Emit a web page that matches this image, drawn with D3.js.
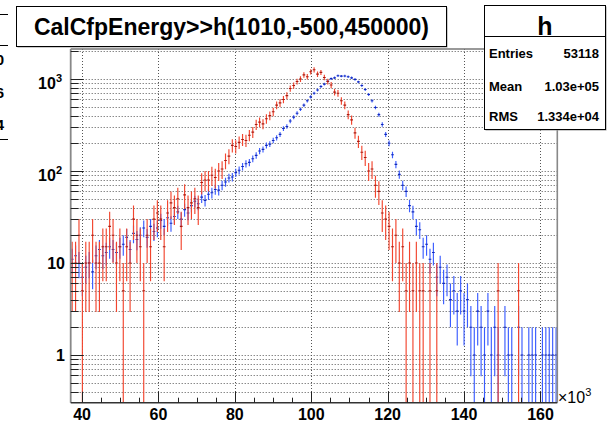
<!DOCTYPE html>
<html><head><meta charset="utf-8">
<script src="https://cdn.jsdelivr.net/npm/d3@7"></script>
<style>body{margin:0;background:#fff;} svg{display:block;font-family:"Liberation Sans",Arial,Helvetica,sans-serif;}</style>
</head><body>
<svg id="c" width="612" height="430"></svg>
<script>
// ---------------- data (x in units of 10^3) ----------------
const binStart = 36.967;
const binWidth = 0.892;
const redWeight = 5;   // red histogram is weighted: error = weight*sqrt(value/weight)
const redValues = [
10,10,20,5,10, 10,20,10,10,15, 15,25,20,10,15, 5,15,10,30,20,
15,5,20,15,30, 35,30,15,35,45, 40,50,25,55,40, 45,50,40,75,80,
80,90,85,100,105, 130,145,190,185,205, 220,215,245,265,320, 340,325,370,400,440,
520,550,600,660,790, 850,940,1000,1110,1060, 1200,1260,1130,1180,1040, 940,860,720,700,580,
520,410,360,260,210, 160,140,100,105,70, 60,35,30,25,15, 20,10,15,5,10,
5,10,5,5,0, 5,0,5,0,0, 0,0,0,0,0, 0,0,0,0,0, 0,0,0,0,0,
5,0,0,0,0, 0,5,0,0,0, 0,0,0,0,0, 0,0,0
];
const blueValues = [
11,12,10,7,9, 10,8,12,14,12, 13,15,14,13,15, 16,19,14,21,18,
20,24,19,25,22, 24,29,25,31,27, 32,36,30,38,35, 42,47,44,52,48,
56,58,63,62,70, 76,84,86,96,102, 112,120,124,136,148, 165,172,190,196,215,
230,250,290,305,350, 385,425,470,520,580, 640,700,760,830,880, 950,1010,1030,1085,1075,
1080,1060,1030,990,930, 850,770,680,580,490, 410,320,250,200,150, 118,92,70,60,42,
36,25,23,15,16, 11,13,7,9,6, 7,4,5,3,5, 3,4,2,1,3, 2,1,3,1,2,
1,0,2,1,1, 0,2,1,0,1, 1,1,0,1,1, 1,1,1
];
const xTickLabels = [40, 60, 80, 100, 120, 140, 160];
const yTickLabels = [
  {v: 1, base: "1", sup: ""},
  {v: 10, base: "10", sup: ""},
  {v: 100, base: "10", sup: "2"},
  {v: 1000, base: "10", sup: "3"}
];
const titleText = "CalCfpEnergy>>h(1010,-500,450000)";
const statsName = "h";
const statsLabels = ["Entries", "Mean", "RMS"];
const statsValues = ["53118", "1.03e+05", "1.334e+04"];
const offLeftValues = ["0", "6", "4"];

// ---------------- layout ----------------
const svg = d3.select("#c");
const L = 70.7, R = 557.3, T = 49, B = 402.7;
const x = d3.scaleLinear().domain([37.03, 164.4]).range([L, R]);
const y = d3.scaleLog().domain([0.303, 2120]).range([B, T]);

svg.append("rect").attr("width", 612).attr("height", 430).attr("fill", "#fff");

// grid
const yMinor = [];
for (let k = -1; k <= 3; k++) for (let m = 1; m <= 9; m++) {
  const v = m * Math.pow(10, k);
  if (v >= 0.303 && v <= 2120) yMinor.push(v);
}
const grid = svg.append("g").attr("stroke", "#555").attr("stroke-width", 1).attr("stroke-dasharray", "1,2");
grid.selectAll("line.gy").data(yMinor).join("line")
  .attr("x1", L).attr("x2", R)
  .attr("y1", d => Math.round(y(d)) + 0.5).attr("y2", d => Math.round(y(d)) + 0.5);
grid.selectAll("line.gx").data(xTickLabels).join("line")
  .attr("y1", T).attr("y2", B)
  .attr("x1", d => Math.round(x(d)) + 0.5).attr("x2", d => Math.round(x(d)) + 0.5);

// data
svg.append("clipPath").attr("id", "clip").append("rect")
  .attr("x", L).attr("y", T).attr("width", R - L).attr("height", B - T);
const plot = svg.append("g").attr("clip-path", "url(#clip)");

function drawSeries(values, weight, lineColor, markColor) {
  const bins = values.map((v, i) => ({c: binStart + binWidth * (i + 0.5), v}))
    .filter(d => d.v > 0);
  const g = plot.append("g");
  const err = d => weight * Math.sqrt(d.v / weight);
  g.selectAll("line.e").data(bins).join("line")
    .attr("x1", d => x(d.c)).attr("x2", d => x(d.c))
    .attr("y1", d => { const lo = d.v - err(d); return lo <= 0.303 ? B + 2 : y(lo); })
    .attr("y2", d => y(d.v + err(d)))
    .attr("stroke", lineColor).attr("stroke-width", 1.15);
  g.selectAll("line.m").data(bins).join("line")
    .attr("x1", d => x(d.c - binWidth * 0.4)).attr("x2", d => x(d.c + binWidth * 0.4))
    .attr("y1", d => y(d.v)).attr("y2", d => y(d.v))
    .attr("stroke", markColor).attr("stroke-width", 1.1);
}
drawSeries(blueValues, 1, "#3a5cff", "#1228b8");
drawSeries(redValues, redWeight, "#f2452e", "#a81a10");

// frame
svg.append("line").attr("x1", L).attr("x2", R).attr("y1", T).attr("y2", T).attr("stroke", "#777").attr("stroke-width", 1.3);
svg.append("line").attr("x1", R).attr("x2", R).attr("y1", T).attr("y2", B).attr("stroke", "#888").attr("stroke-width", 1.6);
svg.append("line").attr("x1", L).attr("x2", L).attr("y1", T).attr("y2", B).attr("stroke", "#888").attr("stroke-width", 1.8);
svg.append("line").attr("x1", L).attr("x2", R).attr("y1", B).attr("y2", B).attr("stroke", "#333").attr("stroke-width", 1.4);

// y ticks
const yt = svg.append("g").attr("stroke", "#222").attr("stroke-width", 1);
yt.selectAll("line").data(yMinor).join("line")
  .attr("x1", L).attr("x2", d => L + (Math.abs(Math.log10(d) - Math.round(Math.log10(d))) < 1e-9 ? 13 : 8))
  .attr("y1", d => Math.round(y(d)) + 0.5).attr("y2", d => Math.round(y(d)) + 0.5);

// x ticks
const xMinorTicks = d3.range(40, 165, 5);
const xt = svg.append("g").attr("stroke", "#222").attr("stroke-width", 1);
xt.selectAll("line").data(xMinorTicks).join("line")
  .attr("x1", d => Math.round(x(d)) + 0.5).attr("x2", d => Math.round(x(d)) + 0.5)
  .attr("y1", B).attr("y2", d => B - (d % 20 === 0 ? 11 : 5));

// x labels
svg.append("g").selectAll("text").data(xTickLabels).join("text")
  .attr("x", d => x(d)).attr("y", 420).attr("text-anchor", "middle")
  .attr("font-size", 16).attr("font-weight", "bold").text(d => d);
const xl = svg.append("text").attr("x", 558).attr("y", 403).attr("font-size", 16);
xl.append("tspan").text("\u00d710");
xl.append("tspan").attr("dy", -7).attr("font-size", 11).text("3");

// y labels
const yl = svg.append("g").selectAll("text").data(yTickLabels).join("text")
  .attr("x", d => d.sup ? 62 : 65).attr("text-anchor", "end").attr("font-size", 16).attr("font-weight", "bold")
  .attr("y", d => y(d.v) + (d.sup ? 10 : 6));
yl.append("tspan").text(d => d.base);
yl.append("tspan").attr("dy", -7).attr("font-size", 11).text(d => d.sup);

// title box
svg.append("rect").attr("x", 17.5).attr("y", 7.5).attr("width", 430).attr("height", 40).attr("fill", "#999");
svg.append("rect").attr("x", 16.5).attr("y", 6.5).attr("width", 430).attr("height", 40)
  .attr("fill", "#fff").attr("stroke", "#000").attr("stroke-width", 1);
svg.append("text").attr("x", 231.5).attr("y", 35).attr("text-anchor", "middle")
  .attr("font-size", 23).attr("font-weight", "bold").text(titleText);

// stats box
const sx = 484.5, sy = 5.5, sw = 121, sh = 124;
svg.append("rect").attr("x", sx + 1).attr("y", sy + 1).attr("width", sw).attr("height", sh).attr("fill", "#999");
svg.append("rect").attr("x", sx).attr("y", sy).attr("width", sw).attr("height", sh)
  .attr("fill", "#fff").attr("stroke", "#000").attr("stroke-width", 1);
svg.append("line").attr("x1", sx).attr("x2", sx + sw).attr("y1", 36.5).attr("y2", 36.5).attr("stroke", "#000");
svg.append("text").attr("x", sx + sw / 2).attr("y", 35).attr("text-anchor", "middle")
  .attr("font-size", 25).attr("font-weight", "bold").text(statsName);
const rowsY = [58, 91, 121];
svg.append("g").selectAll("text").data(statsLabels).join("text")
  .attr("x", 489).attr("y", (d, i) => rowsY[i]).attr("font-size", 13).attr("font-weight", "bold").text(d => d);
svg.append("g").selectAll("text").data(statsValues).join("text")
  .attr("x", 599).attr("y", (d, i) => rowsY[i]).attr("text-anchor", "end")
  .attr("font-size", 13).attr("font-weight", "bold").text(d => d);

// partially visible box at the left edge (cut off in the original too)
svg.append("line").attr("x1", 0).attr("x2", 8).attr("y1", 14.5).attr("y2", 14.5).attr("stroke", "#000");
svg.append("line").attr("x1", 0).attr("x2", 8).attr("y1", 45.5).attr("y2", 45.5).attr("stroke", "#000");
svg.append("line").attr("x1", 0).attr("x2", 8).attr("y1", 139.5).attr("y2", 139.5).attr("stroke", "#000");
const offY = [65, 98, 130];
svg.append("g").selectAll("text").data(offLeftValues).join("text")
  .attr("x", 4).attr("y", (d, i) => offY[i]).attr("text-anchor", "end")
  .attr("font-size", 15).attr("font-weight", "bold").text(d => d);
</script>
</body></html>
